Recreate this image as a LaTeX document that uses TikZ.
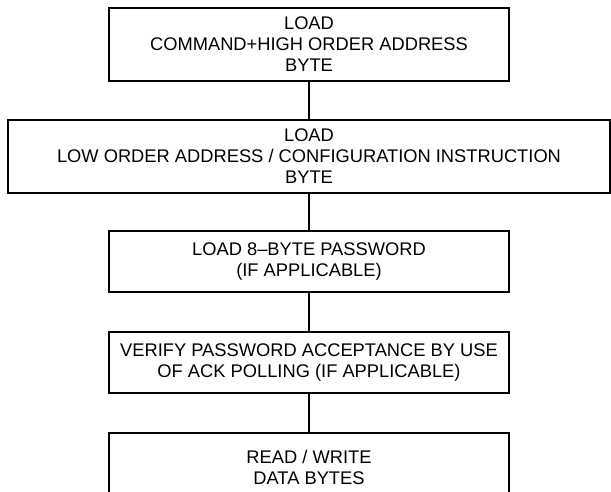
\documentclass[tikz,border=0pt]{standalone}
\usepackage{fontspec}
\setmainfont{Liberation Sans}
\begin{document}
\begin{tikzpicture}[x=1pt,y=-1pt,
  stepbox/.style={draw, line width=1.6pt, align=center, inner sep=0pt,
    font=\fontsize{18.3}{21}\selectfont, text=black, minimum width=400pt},
  link/.style={line width=1.5pt}]
\useasboundingbox (0,0) rectangle (611,492);
\clip (0,0) rectangle (611,492);
\node[stepbox, minimum height=73pt] (n1) at (309,44.5) {LOAD\\COMMAND+HIGH ORDER ADDRESS\\BYTE};
\node[stepbox, minimum height=73pt, minimum width=602pt] (n2) at (309,156.5) {LOAD\\LOW ORDER ADDRESS / CONFIGURATION INSTRUCTION\\BYTE};
\node[stepbox, minimum height=61pt] (n3) at (309,261.5) {LOAD 8--BYTE PASSWORD\\(IF APPLICABLE)};
\node[stepbox, minimum height=61pt] (n4) at (309,362.5) {VERIFY PASSWORD ACCEPTANCE BY USE\\OF ACK POLLING (IF APPLICABLE)};
\node[stepbox, minimum height=68pt] (n5) at (309,467) {READ / WRITE\\DATA BYTES};
\draw[link] (n1.south) -- (n2.north);
\draw[link] (n2.south) -- (n3.north);
\draw[link] (n3.south) -- (n4.north);
\draw[link] (n4.south) -- (n5.north);
\end{tikzpicture}
\end{document}
